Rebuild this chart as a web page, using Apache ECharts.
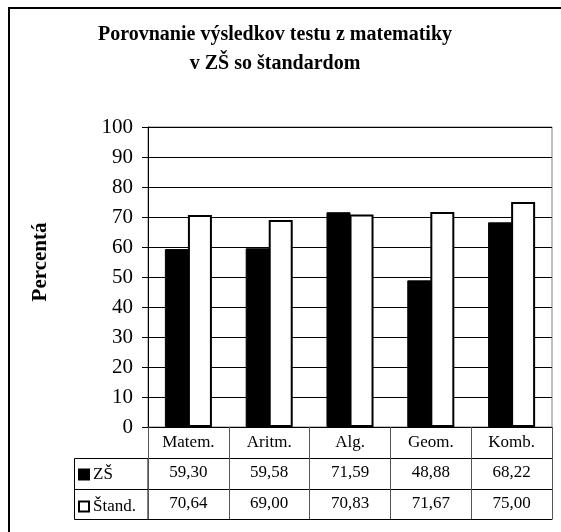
<!DOCTYPE html>
<html>
<head>
<meta charset="utf-8">
<script src="https://cdn.jsdelivr.net/npm/echarts@6/dist/echarts.min.js"></script>
<style>
  html, body { margin: 0; padding: 0; background: #fff; }
  #chart { width: 561px; height: 532px; }
</style>
</head>
<body>
<div id="chart"></div>
<script>
// Porovnanie výsledkov testu z matematiky
var categories = ['Matem.', 'Aritm.', 'Alg.', 'Geom.', 'Komb.'];
var seriesNames = ['ZŠ', 'Štand.'];
var zsValues = [59.30, 59.58, 71.59, 48.88, 68.22];
var standValues = [70.64, 69.00, 70.83, 71.67, 75.00];
var yTicks = [0, 100, 10]; // min, max, interval

var serif = '"Liberation Serif", "DejaVu Serif", serif';

// hodnoty do tabuľky s desatinnou čiarkou
var fmt = function(v) {
	return v.toFixed(2).replace('.', ',');
};

var chart = echarts.init(document.getElementById('chart'));

var gridLeft = 148, gridRight = 552, gridTop = 127, gridBottom = 427;
var rowH = 31;

var tableAxis = function(values, offset) {
	return {
		type : 'category',
		gridIndex : 0,
		position : 'bottom',
		offset : offset,
		data : values.map(fmt),
		axisLine : { show : true, onZero : false, lineStyle : { color : '#000', width : 1 } },
		axisTick : { show : false },
		axisLabel : { fontFamily : serif, fontSize : 17, color : '#000', margin : 6 },
		splitLine : { show : false }
	};
};

var option = {
	animation : false,
	backgroundColor : '#fff',
	title : {
		text : 'Porovnanie výsledkov testu z matematiky\nv ZŠ so štandardom',
		left : 275,
		top : 20,
		padding : 0,
		textAlign : 'center',
		textStyle : {
			fontFamily : serif,
			fontSize : 20,
			fontWeight : 'bold',
			color : '#000',
			lineHeight : 29
		}
	},
	legend : {
		orient : 'vertical',
		left : 78,
		top : 466,
		padding : 0,
		itemWidth : 10,
		itemHeight : 10,
		itemGap : 15,
		icon : 'rect',
		textStyle : { fontFamily : serif, fontSize : 17, color : '#000', padding : [0, 0, 0, -1] },
		data : seriesNames
	},
	grid : {
		left : gridLeft,
		top : gridTop,
		width : gridRight - gridLeft,
		height : gridBottom - gridTop,
		show : true,
		borderColor : '#808080',
		borderWidth : 1
	},
	xAxis : [ {
		type : 'category',
		data : categories,
		axisLine : { lineStyle : { color : '#000', width : 1 } },
		axisTick : { show : true, alignWithLabel : false, length : rowH * 3 - 1, lineStyle : { color : '#555' } },
		axisLabel : { fontFamily : serif, fontSize : 17, color : '#000', margin : 7 },
		splitLine : { show : false }
	},
	tableAxis(zsValues, rowH),
	tableAxis(standValues, rowH * 2),
	{
		type : 'category',
		position : 'bottom',
		offset : rowH * 3 - 1,
		data : categories,
		axisLine : { show : true, onZero : false, lineStyle : { color : '#000', width : 1 } },
		axisTick : { show : false },
		axisLabel : { show : false }
	} ],
	yAxis : {
		type : 'value',
		min : yTicks[0],
		max : yTicks[1],
		interval : yTicks[2],
		axisLine : { show : true, lineStyle : { color : '#000', width : 1 } },
		axisTick : { show : true, length : 6, lineStyle : { color : '#000' } },
		axisLabel : { fontFamily : serif, fontSize : 21, color : '#000', margin : 15 },
		splitLine : { lineStyle : { color : '#000', width : 1 } }
	},
	graphic : [ {
		type : 'rect',
		shape : { x : 9, y : 8, width : 700, height : 700 },
		style : { fill : 'none', stroke : '#000', lineWidth : 2 },
		silent : true
	}, {
		type : 'rect',
		shape : { x : 74.5, y : gridBottom + rowH + 0.5, width : gridLeft - 74.5, height : rowH * 2 - 1 },
		style : { fill : 'none', stroke : '#000', lineWidth : 1 },
		silent : true
	}, {
		type : 'line',
		shape : { x1 : 74.5, y1 : gridBottom + rowH * 2 + 0.5, x2 : gridLeft, y2 : gridBottom + rowH * 2 + 0.5 },
		style : { stroke : '#000', lineWidth : 1 },
		silent : true
	}, {
		type : 'text',
		x : 41,
		y : 262,
		rotation : Math.PI / 2,
		style : {
			text : 'Percentá',
			fontFamily : serif,
			fontSize : 21,
			fontWeight : 'bold',
			fill : '#000',
			align : 'center',
			verticalAlign : 'middle'
		},
		silent : true
	} ],
	series : [ {
		name : seriesNames[0],
		type : 'bar',
		data : zsValues,
		barWidth : 24,
		barGap : '-4%',
		itemStyle : { color : '#000', borderColor : '#000', borderWidth : 1 }
	}, {
		name : seriesNames[1],
		type : 'bar',
		data : standValues,
		barWidth : 24,
		itemStyle : { color : '#fff', borderColor : '#000', borderWidth : 2 }
	} ]
};

chart.setOption(option);
</script>
</body>
</html>
